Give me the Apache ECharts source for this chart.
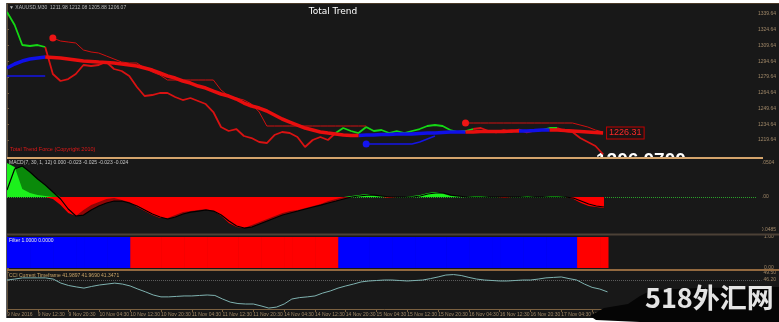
<!DOCTYPE html>
<html><head><meta charset="utf-8">
<script src="https://cdn.jsdelivr.net/npm/echarts/dist/echarts.min.js"></script>
<style>
html,body{margin:0;padding:0;background:#fff;width:779px;height:322px;overflow:hidden;position:relative}
#bg{position:absolute;left:6px;top:3px;width:773px;height:315px;background:#181818}
#c{position:absolute;left:0;top:0;width:779px;height:322px}
</style></head><body>
<div id="bg"></div><div id="c"></div>
<script>
// ---------- data ----------
const TIME_LABELS = ['9 Nov 2016','9 Nov 12:30','9 Nov 20:30','10 Nov 04:30','10 Nov 12:30','10 Nov 20:30','11 Nov 04:30','11 Nov 12:30','11 Nov 20:30','14 Nov 04:30','14 Nov 12:30','14 Nov 20:30','15 Nov 04:30','15 Nov 12:30','15 Nov 20:30','16 Nov 04:30','16 Nov 12:30','16 Nov 20:30','17 Nov 04:30','17 Nov 12:30','17 Nov 20:30'];
const PRICE_TICKS = [1219.64,1234.64,1249.64,1264.64,1279.64,1294.64,1309.64,1324.64,1339.64];
const MACD_TICKS = [0.0504,0,-0.0485];
const FILTER_TICKS = [1,0];
const CCI_TICKS = [49.5,46.2];

const PRICE = [1341.54,1329.16,1310.11,1309.16,1310.11,1308.21,1282.49,1275.83,1277.73,1282.49,
1291.06,1290.11,1291.06,1293.92,1287.26,1285.35,1280.59,1270.11,1261.54,1262.49,
1264.40,1264.40,1260.59,1257.73,1259.64,1256.78,1253.92,1246.30,1232.02,1228.21,
1230.11,1223.45,1221.54,1217.73,1216.78,1224.40,1227.26,1226.30,1222.49,1212.97,
1219.64,1222.49,1219.64,1226.30,1231.06,1228.21,1226.30,1232.02,1228.21,1229.16,
1226.30,1228.21,1226.30,1228.21,1230.11,1232.97,1233.92,1232.97,1229.16,1227.26,
1228.21,1230.11,1231.06,1228.21,1226.80,1229.00,1227.26,1229.50,1226.90,1228.60,
1229.16,1231.06,1231.06,1228.21,1227.26,1221.54,1217.73,1213.92,1206.07];
const PRICE_TREND = ('gggggg'+'r'.repeat(38)+'g'.repeat(18)+'r'.repeat(8)+'ggg'+'rrrrrr').split('');

const TREND_MA = [1288.21,1292.02,1294.87,1296.78,1297.73,1298.68,1298.21,1297.73,1296.78,1295.83,
1294.87,1294.40,1293.92,1293.45,1292.97,1292.02,1291.06,1290.11,1288.21,1286.30,
1283.45,1280.59,1278.68,1275.83,1273.92,1271.06,1269.16,1266.30,1263.45,1261.54,
1258.68,1254.87,1252.02,1250.11,1247.26,1243.45,1239.64,1236.78,1233.92,1231.06,
1229.16,1227.26,1226.30,1225.35,1224.40,1223.92,1223.92,1224.40,1224.40,1224.87,
1224.87,1225.35,1225.35,1225.35,1225.83,1226.30,1226.30,1226.78,1227.26,1227.26,
1227.26,1227.26,1227.73,1227.73,1227.73,1227.73,1228.21,1228.21,1228.21,1228.68,
1229.16,1229.16,1229.16,1228.68,1228.21,1227.73,1227.26,1226.78,1226.31];
const MA_TREND = ('bbbbbb'+'r'.repeat(41)+'b'.repeat(14)+'r'.repeat(7)+'bbbb'+'r'.repeat(7)).split('');

const BAND_UP = [null,null,null,null,null,null,
1316.78,1313.92,1312.97,1312.02,1305.35,1303.45,1302.49,1299.64,1296.78,1293.92,1292.97,1292.97,1288.21,1284.40,1281.54,1276.78,
1276.78,1276.78,1276.78,1276.78,1276.78,1276.78,
1267.26,1261.54,1259.64,1257.73,1253.92,1246.30,1232.97,
1232.97,1232.97,1232.97,1232.97,1232.97,1232.97,1232.97,1232.97,1232.97,1232.97,1232.97,1232.97,1232.97,
null,null,null,null,null,null,null,null,null,null,null,null,
1235.83,1235.83,1235.83,1235.83,1235.83,1235.83,1235.83,1235.83,1235.83,1235.83,1235.83,1235.83,1235.83,1235.83,1235.83,
1233.92,1232.02,1229.16,1227.26];
const BAND_DN = [1280.59,1280.59,1280.59,1280.59,1280.59,1280.59,
null,null,null,null,null,null,null,null,null,null,null,null,null,null,null,null,null,null,null,null,
null,null,null,null,null,null,null,null,null,null,null,null,null,null,null,null,null,null,null,null,null,
1215.83,1215.83,1215.83,1215.83,1215.83,1215.83,1215.83,1217.73,1220.59,1223.45,
null,null,null,null,null,null,null,null,null,null,null,null,null,null,null,null,null,null,null,null,null,null];

const MACD = [0.0500,0.0441,0.0118,0.0059,0.0029,0.0015,-0.0029,-0.0118,-0.0235,-0.0279,
-0.0191,-0.0118,-0.0074,-0.0029,-0.0015,-0.0044,-0.0074,-0.0147,-0.0206,-0.0265,
-0.0309,-0.0309,-0.0265,-0.0221,-0.0206,-0.0191,-0.0176,-0.0206,-0.0279,-0.0382,
-0.0441,-0.0456,-0.0412,-0.0368,-0.0323,-0.0279,-0.0235,-0.0206,-0.0191,-0.0162,
-0.0132,-0.0103,-0.0059,-0.0029,0.0000,0.0015,0.0029,0.0044,0.0015,0.0000,
-0.0015,0.0000,0.0000,0.0015,0.0029,0.0059,0.0074,0.0044,0.0015,0.0000,
0.0000,0.0015,0.0015,0.0000,0.0000,-0.0015,0.0000,0.0000,0.0015,0.0000,
0.0000,0.0015,0.0015,0.0000,-0.0029,-0.0088,-0.0132,-0.0147,-0.0162];
const SIGNAL = [0.0103,0.0412,0.0456,0.0368,0.0265,0.0176,0.0074,-0.0029,-0.0176,-0.0279,
-0.0265,-0.0191,-0.0132,-0.0088,-0.0059,-0.0059,-0.0088,-0.0132,-0.0191,-0.0250,
-0.0294,-0.0323,-0.0294,-0.0250,-0.0221,-0.0206,-0.0191,-0.0206,-0.0265,-0.0353,
-0.0426,-0.0456,-0.0441,-0.0397,-0.0353,-0.0309,-0.0265,-0.0235,-0.0206,-0.0176,
-0.0147,-0.0118,-0.0088,-0.0059,-0.0029,0.0000,0.0015,0.0029,0.0029,0.0015,
0.0000,0.0000,0.0000,0.0000,0.0015,0.0044,0.0059,0.0059,0.0029,0.0015,
0,0,0,0,0,0,0,0,0,0,0,0,0,0,
-0.0015,-0.0059,-0.0103,-0.0132,-0.0147];

const FILTER_STATE = ('B'.repeat(16)+'R'.repeat(27)+'B'.repeat(31)+'R'.repeat(4)).split('');

const CCI = [46.2,46.6,47.1,47.1,47.1,47.1,46.6,44.9,43.9,43.3,
42.8,43.5,44.1,44.5,44.9,44.5,43.7,42.4,41.2,39.9,
39.1,39.1,39.3,39.5,39.5,39.7,39.9,39.7,38.2,36.9,
36.3,36.1,36.1,35.3,34.4,34.8,36.1,38.2,38.8,39.1,
39.5,40.7,41.6,42.8,43.7,44.5,45.4,45.8,46.0,46.2,
46.2,46.0,45.8,46.0,46.2,46.8,47.5,48.3,48.5,48.1,
47.3,46.6,46.2,46.0,45.8,45.8,46.0,46.2,46.2,46.6,
47.1,47.3,47.5,46.8,46.2,44.5,43.1,42.4,41.2];
const CCI_LEVEL = 46.2;

// ---------- chart ----------
const N = PRICE.length;
const SMALL = '"Liberation Sans", Arial, sans-serif';
const AX = '#a08868';

function splitBy(vals, states, c){
  return vals.map((v,i)=> [i, (states[i]===c || states[i+1]===c) ? v : null]);
}
function bandData(vals){
  return vals.map((v,i)=>{
    if (v==null) return [i,null];
    if (i>0 && vals[i-1]==null) return {value:[i,v], symbol:'circle', symbolSize:7};
    return [i,v];
  });
}
function areaSer(vals, sign, color, z){
  return {type:'line', xAxisIndex:1, yAxisIndex:1, silent:true, z:z, showSymbol:false,
    data: vals.map((v,i)=>[i, sign>0?Math.max(v,0):Math.min(v,0)]),
    lineStyle:{width:0}, areaStyle:{color:color, opacity:1, origin:0}};
}
function yAx(idx, min, max, ticks, fmt){
  return {type:'value', gridIndex:idx, position:'right', min:min, max:max, splitLine:{show:false},
    axisLine:{show:true, lineStyle:{color:'#5e4e3a', width:1}},
    axisTick:{show:true, length:2, customValues:ticks, lineStyle:{color:'#6e5a40'}},
    axisLabel:{customValues:ticks, formatter:fmt, fontSize:5, color:AX, margin:2, fontFamily:SMALL}};
}
function xAx(idx, show){
  return {type:'value', gridIndex:idx, min:0, max:98, interval:4, show:show,
    splitLine:{show:false},
    axisLine:{show:true, onZero:false, lineStyle:{color:'#7a6040'}},
    axisTick:{show:true, length:3, lineStyle:{color:'#7a6040'}},
    axisLabel:{fontSize:5, color:AX, align:'left', margin:3, fontFamily:SMALL,
      showMinLabel:true, showMaxLabel:false,
      formatter:v=>TIME_LABELS[Math.round(v/4)] || ''}};
}

const chart = echarts.init(document.getElementById('c'), null, {width:779, height:322});
const option = {
  backgroundColor:'transparent',
  animation:false,
  grid:[
    {left:7, right:17, top:4, height:154},
    {left:7, right:17, top:159, height:74},
    {left:7, right:17, top:237, height:31},
    {left:7, right:17, top:271, height:38}
  ],
  xAxis:[xAx(0,false), xAx(1,false), xAx(2,false), xAx(3,true)],
  yAxis:[
    yAx(0, 1202.50, 1349.16, PRICE_TICKS, v=>v.toFixed(2)),
    yAx(1, -0.0529, 0.0559, MACD_TICKS, v=>v===0?'0.00':v.toFixed(4)),
    yAx(2, 0, 1, FILTER_TICKS, v=>v.toFixed(2)),
    yAx(3, 34, 50, CCI_TICKS, v=>v.toFixed(2))
  ],
  series:[
    // price
    {type:'line', xAxisIndex:0, yAxisIndex:0, showSymbol:false, silent:true, z:3,
     data:splitBy(PRICE, PRICE_TREND, 'g'), lineStyle:{color:'#14d814', width:1.8}},
    {type:'line', xAxisIndex:0, yAxisIndex:0, showSymbol:false, silent:true, z:3,
     data:splitBy(PRICE, PRICE_TREND, 'r'), lineStyle:{color:'#d81212', width:1.8},
     markLine:{silent:true, symbol:'none', lineStyle:{opacity:0},
       label:{position:'end', distance:1, formatter:p=>p.value.toFixed(2), fontSize:5, color:'#1a1a1a',
              backgroundColor:'#d09a5c', padding:[1,1], fontFamily:SMALL},
       data:[{yAxis:PRICE[N-1]}]}},
    // bands
    {type:'line', xAxisIndex:0, yAxisIndex:0, silent:true, z:4, symbol:'none', showSymbol:true, showAllSymbol:true,
     data:bandData(BAND_UP), lineStyle:{color:'#d01010', width:1}, itemStyle:{color:'#ee1515'}},
    {type:'line', xAxisIndex:0, yAxisIndex:0, silent:true, z:4, symbol:'none', showSymbol:true, showAllSymbol:true,
     data:bandData(BAND_DN), lineStyle:{color:'#1414e6', width:1.6}, itemStyle:{color:'#1414f0'}},
    // trend MA
    {type:'line', xAxisIndex:0, yAxisIndex:0, showSymbol:false, silent:true, z:5,
     data:splitBy(TREND_MA, MA_TREND, 'b'), lineStyle:{color:'#1010e8', width:3.5}},
    {type:'line', xAxisIndex:0, yAxisIndex:0, showSymbol:false, silent:true, z:5,
     data:splitBy(TREND_MA, MA_TREND, 'r'), lineStyle:{color:'#e80e0e', width:3.5},
     endLabel:{show:true, distance:4, formatter:p=>p.value[1].toFixed(2), color:'#ff2a2a', fontSize:9,
       fontFamily:SMALL, borderColor:'#c00000', borderWidth:1, padding:[1,2], backgroundColor:'#1c1414'}},
    // MACD panel
    areaSer(SIGNAL, 1, '#0a8a0a', 10), areaSer(SIGNAL, -1, '#8e0606', 10),
    areaSer(MACD, 1, '#1cf01c', 11), areaSer(MACD, -1, '#ff0000', 11),
    {type:'line', xAxisIndex:1, yAxisIndex:1, silent:true, z:12, showSymbol:false,
     data:SIGNAL.map((v,i)=>[i,v]), lineStyle:{color:'#000', width:1.2},
     markLine:{silent:true, symbol:'none', label:{show:false},
       lineStyle:{color:'#2aa02a', type:'dotted', width:1}, data:[{yAxis:0}]}},
    // filter panel
    {type:'custom', xAxisIndex:2, yAxisIndex:2, silent:true, z:10,
     data:FILTER_STATE.map((s,i)=>[i,1]),
     renderItem:(params, api)=>{
       const u = api.value(0);
       const a = api.coord([u,1]), b = api.coord([u+1,0]);
       return {type:'rect', shape:{x:a[0], y:a[1], width:b[0]-a[0]+0.6, height:b[1]-a[1]},
               style:{fill: FILTER_STATE[params.dataIndex]==='B' ? '#0000ff' : '#ff0000'}};
     }},
    // CCI panel
    {type:'line', xAxisIndex:3, yAxisIndex:3, silent:true, z:10, showSymbol:false,
     data:CCI.map((v,i)=>[i,v]), lineStyle:{color:'#7fb2b0', width:1},
     markLine:{silent:true, symbol:'none', label:{show:false},
       lineStyle:{color:'#5c5c5c', type:'dotted', width:1}, data:[{yAxis:CCI_LEVEL}]}}
  ],
  graphic:[
    // big bid price text, cut by the sub-window below
    {type:'text', x:596, y:151.5, z:1, silent:true,
     style:{text:'1206.0700', fill:'#ffffff', font:'bold 19px "Liberation Sans", Arial', verticalAlign:'top'}},
    {type:'rect', z:2, silent:true, shape:{x:7, y:159, width:755, height:75}, style:{fill:'#181818'}},
    // frame lines
    {type:'rect', z:50, silent:true, shape:{x:6, y:3, width:773, height:1}, style:{fill:'#4a3a28'}},
    {type:'rect', z:50, silent:true, shape:{x:6, y:3, width:1, height:315}, style:{fill:'#5a5a5a'}},
    {type:'rect', z:50, silent:true, shape:{x:7, y:157, width:756, height:2}, style:{fill:'#d4a46c'}},
    {type:'rect', z:50, silent:true, shape:{x:7, y:233.5, width:772, height:2}, style:{fill:'#4c4136'}},
    {type:'rect', z:50, silent:true, shape:{x:7, y:269, width:772, height:2}, style:{fill:'#93693f'}},
    // texts
    {type:'text', x:9, y:5, z:60, silent:true,
     style:{text:'\u25BC XAUUSD,M30  1211.98 1212.08 1205.88 1206.07', fill:'#b8b8b8', font:'5px '+SMALL, verticalAlign:'top'}},
    {type:'text', x:333, y:12, z:60, silent:true,
     style:{text:'Total Trend', fill:'#ffffff', font:'9px "DejaVu Sans"', align:'center', verticalAlign:'middle'}},
    {type:'text', x:10, y:149, z:60, silent:true,
     style:{text:'Total Trend Force (Copyright 2010)', fill:'#e01818', font:'5.5px '+SMALL, verticalAlign:'middle'}},
    {type:'text', x:9, y:163, z:60, silent:true,
     style:{text:'MACD(7, 30, 1, 12) 0.000 -0.023 -0.025 -0.023 -0.024', fill:'#c8c8c8', font:'5px '+SMALL, verticalAlign:'middle'}},
    {type:'text', x:9, y:241, z:60, silent:true,
     style:{text:'Filter 1.0000 0.0000', fill:'#e8e8e8', font:'5px '+SMALL, verticalAlign:'middle'}},
    {type:'text', x:9, y:276, z:60, silent:true,
     style:{text:'CCI Current Timeframe 41.9897 41.9690 41.3471', fill:'#c8a468', font:'5px '+SMALL, verticalAlign:'middle'}},
    // watermark
    {type:'polygon', z:100, silent:true,
     shape:{points:[[590,316],[604,308],[628,304],[640,296],[652,290],[700,288],[779,287],[779,322],[640,322],[596,320]]},
     style:{fill:'#050505'}},
    {type:'text', x:645, y:298, z:101, silent:true,
     style:{text:'518外汇网', fill:'#e4e4e4', font:'bold 27px "Noto Sans CJK SC"', verticalAlign:'middle'}}
  ]
};
chart.setOption(option);
</script>
</body></html>
